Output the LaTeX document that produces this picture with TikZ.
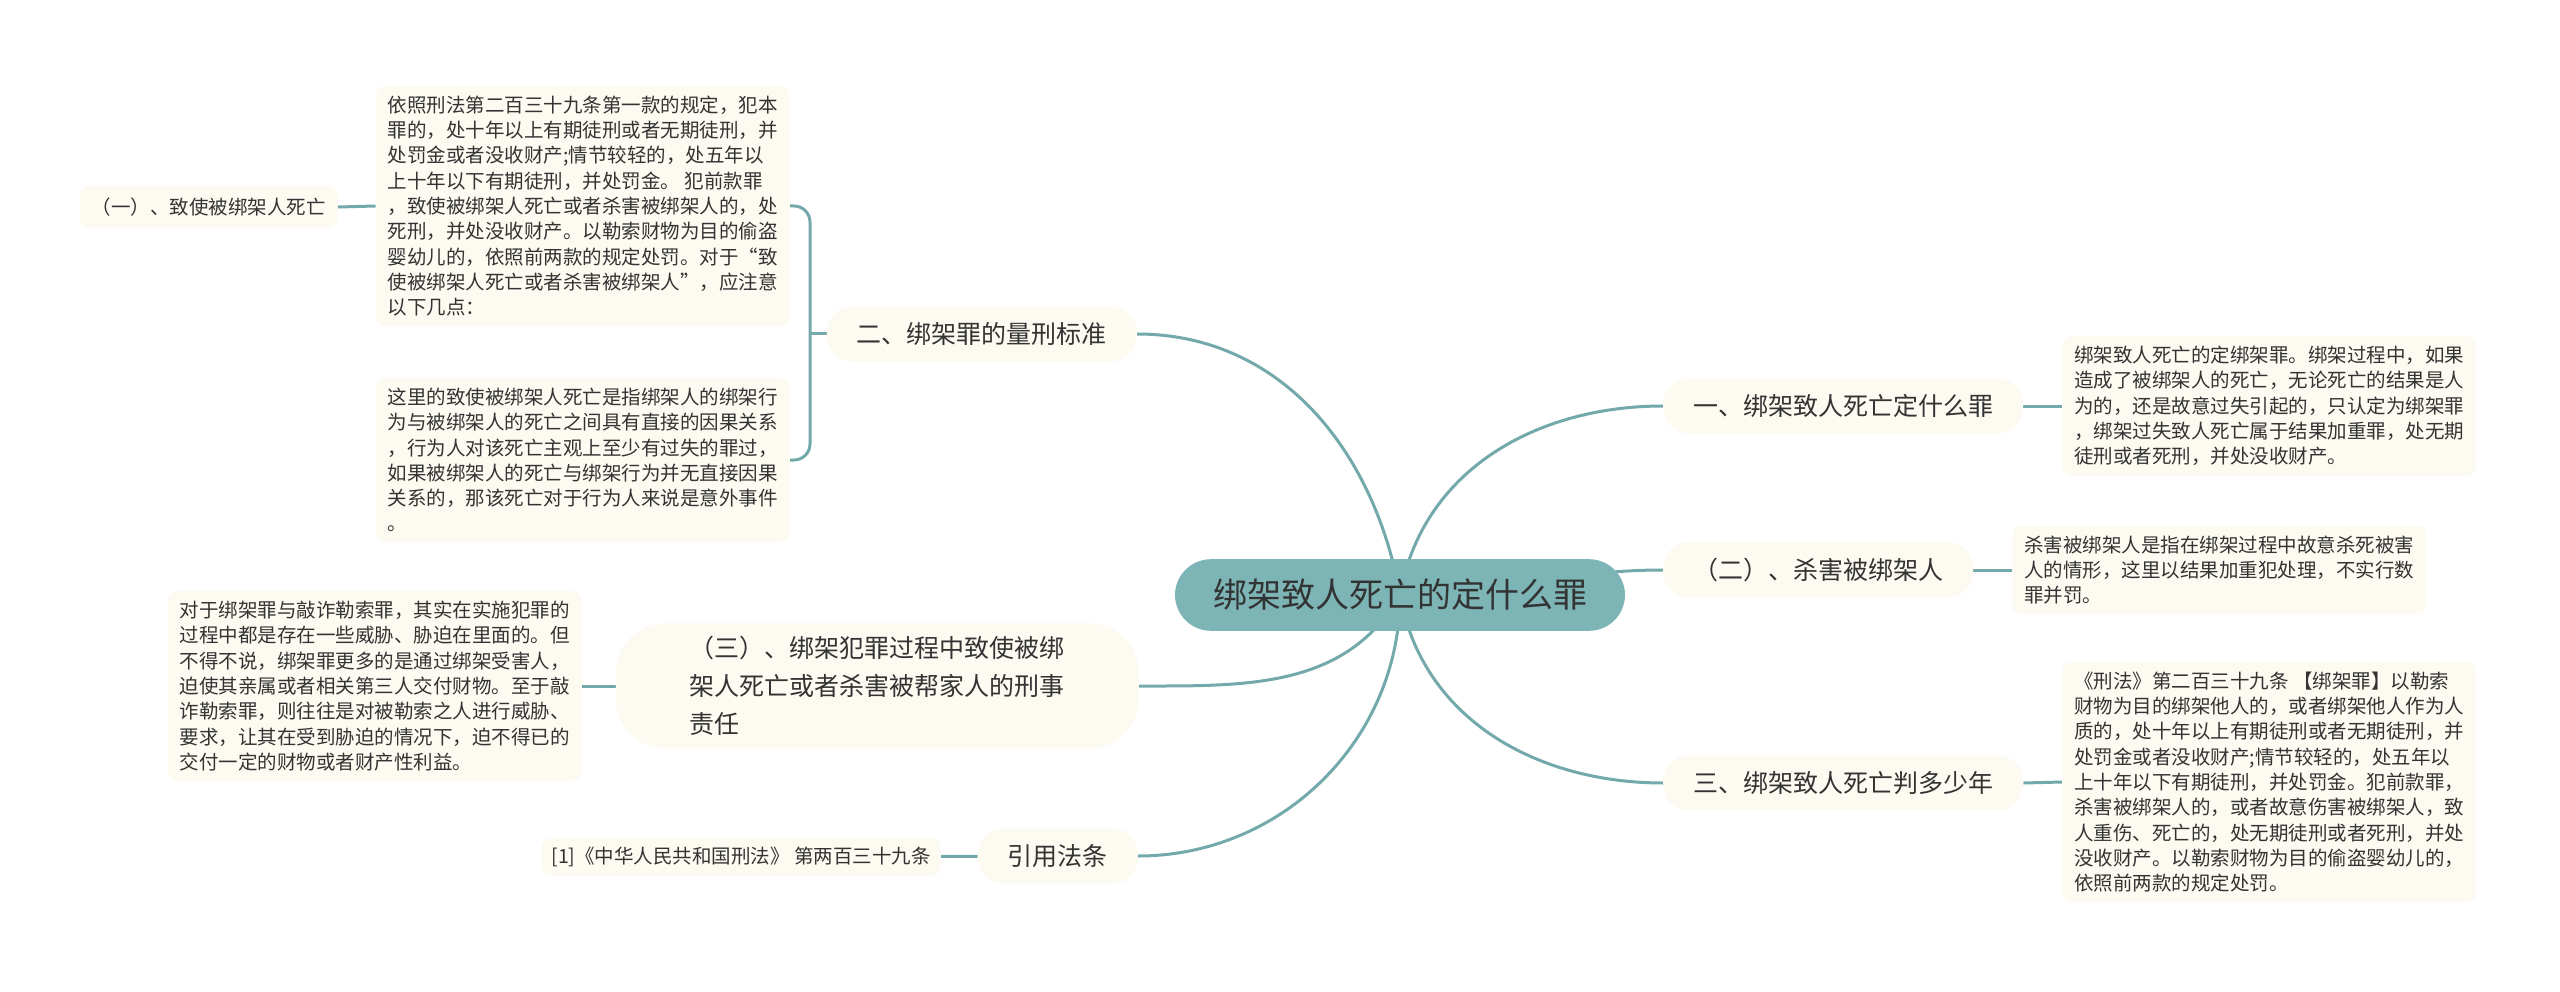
\documentclass[tikz,border=0pt]{standalone}
\usepackage{fontspec}
\setmainfont{Noto Sans CJK SC}
\usetikzlibrary{backgrounds}

\definecolor{linkteal}{HTML}{74A9AC}
\definecolor{rootteal}{HTML}{7DB5B6}
\definecolor{paper}{HTML}{FCFAF1}
\definecolor{ink}{HTML}{333333}

\begin{document}
\begin{tikzpicture}[x=1pt, y=-1pt,
    every node/.style={text=ink},
    root/.style={fill=rootteal, rounded corners=36, inner xsep=38, inner ysep=20, font=\fontsize{34}{40}\selectfont},
    branch/.style={fill=paper, rounded corners=26, inner xsep=30, inner ysep=16, font=\fontsize{25}{38}\selectfont, align=left},
    leaf/.style={fill=paper, rounded corners=10, inner xsep=12, inner ysep=10, font=\fontsize{19.5}{25.3}\selectfont, align=left},
    link/.style={draw=linkteal, line width=3}]
  \useasboundingbox (0,0) rectangle (2560,992);

  % centre
  \node[root] (cent) at (1400,595) {绑架致人死亡的定什么罪};

  % right side
  \node[branch, anchor=west] (crime) at (1663,406) {一、绑架致人死亡定什么罪};
  \node[branch, anchor=west] (kill) at (1663,570) {（二）、杀害被绑架人};
  \node[branch, anchor=west] (years) at (1663,783) {三、绑架致人死亡判多少年};
  \node[leaf, anchor=west] (crimetxt) at (2062,406) {绑架致人死亡的定绑架罪。绑架过程中，如果\\造成了被绑架人的死亡，无论死亡的结果是人\\为的，还是故意过失引起的，只认定为绑架罪\\，绑架过失致人死亡属于结果加重罪，处无期\\徒刑或者死刑，并处没收财产。};
  \node[leaf, anchor=west] (killtxt) at (2012,570) {杀害被绑架人是指在绑架过程中故意杀死被害\\人的情形，这里以结果加重犯处理，不实行数\\罪并罚。};
  \node[leaf, anchor=west] (yearstxt) at (2062,782) {《刑法》第二百三十九条 【绑架罪】以勒索\\财物为目的绑架他人的，或者绑架他人作为人\\质的，处十年以上有期徒刑或者无期徒刑，并\\处罚金或者没收财产;情节较轻的，处五年以\\上十年以下有期徒刑，并处罚金。犯前款罪，\\杀害被绑架人的，或者故意伤害被绑架人，致\\人重伤、死亡的，处无期徒刑或者死刑，并处\\没收财产。以勒索财物为目的偷盗婴幼儿的，\\依照前两款的规定处罚。};

  % left side
  \node[branch, anchor=east] (scale) at (1137,334) {二、绑架罪的量刑标准};
  \node[branch, anchor=east, rounded corners=50, inner xsep=74, inner ysep=13] (liab) at (1139,686) {（三）、绑架犯罪过程中致使被绑\\架人死亡或者杀害被帮家人的刑事\\责任};
  \node[branch, anchor=east] (law) at (1138,856) {引用法条};
  \node[leaf, anchor=east] (scaletxt) at (790,206) {依照刑法第二百三十九条第一款的规定，犯本\\罪的，处十年以上有期徒刑或者无期徒刑，并\\处罚金或者没收财产;情节较轻的，处五年以\\上十年以下有期徒刑，并处罚金。 犯前款罪\\，致使被绑架人死亡或者杀害被绑架人的，处\\死刑，并处没收财产。以勒索财物为目的偷盗\\婴幼儿的，依照前两款的规定处罚。对于“致\\使被绑架人死亡或者杀害被绑架人”，应注意\\以下几点：};
  \node[leaf, anchor=east] (notetxt) at (790,460) {这里的致使被绑架人死亡是指绑架人的绑架行\\为与被绑架人的死亡之间具有直接的因果关系\\，行为人对该死亡主观上至少有过失的罪过，\\如果被绑架人的死亡与绑架行为并无直接因果\\关系的，那该死亡对于行为人来说是意外事件\\。};
  \node[leaf, anchor=east, inner ysep=12] (death) at (338,207) {（一）、致使被绑架人死亡};
  \node[leaf, anchor=east] (liabtxt) at (582,686) {对于绑架罪与敲诈勒索罪，其实在实施犯罪的\\过程中都是存在一些威胁、胁迫在里面的。但\\不得不说，绑架罪更多的是通过绑架受害人，\\迫使其亲属或者相关第三人交付财物。至于敲\\诈勒索罪，则往往是对被勒索之人进行威胁、\\要求，让其在受到胁迫的情况下，迫不得已的\\交付一定的财物或者财产性利益。};
  \node[leaf, anchor=east, inner xsep=10, inner ysep=9] (lawtxt) at (941,857) {[1]《中华人民共和国刑法》 第两百三十九条};
  \coordinate (fork) at (810,334);

  \begin{scope}[on background layer]
    \fill[white] (0,0) rectangle (2560,992);
    % centre to branches
    \draw[link] (cent.center) to[out=80, in=180] (crime.west);
    \draw[link] (cent.center) to[out=0, in=180] (kill.west);
    \draw[link] (cent.center) to[out=-80, in=180] (years.west);
    \draw[link] (cent.center) to[out=100, in=0] (scale.east);
    \draw[link] (cent.center) to[out=-120, in=0] (liab.east);
    \draw[link] (cent.center) to[out=-90, in=0] (law.east);
    % branches to leaves
    \draw[link] (crime) -- (crimetxt);
    \draw[link] (kill) -- (killtxt);
    \draw[link] (years.east) -- (yearstxt.west);
    \draw[link] (scale.west) -- (fork);
    \draw[link, rounded corners=16] (scaletxt.east) -| (fork) |- (notetxt.east);
    \draw[link] (scaletxt.west) -- (death.east);
    \draw[link] (liab) -- (liabtxt);
    \draw[link] (law) -- (lawtxt);
  \end{scope}
\end{tikzpicture}
\end{document}
